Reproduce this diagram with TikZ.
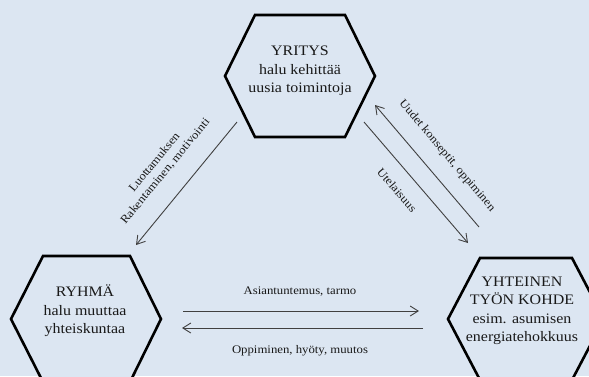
\documentclass[tikz,border=0pt]{standalone}
\usepackage{fontspec}
\setmainfont[FakeStretch=1.1]{Liberation Serif}
\usetikzlibrary{arrows.meta}
\definecolor{bg}{HTML}{DCE6F2}
\definecolor{arr}{HTML}{404040}
\begin{document}
\begin{tikzpicture}[x=1pt,y=-1pt,
 hexa/.style={draw=black,line width=2.6pt,fill=bg,line join=miter},
 hextext/.style={align=center,font=\fontsize{14.5}{18.5}\selectfont,text=black!90,inner sep=0pt},
 lbl/.style={font=\fontsize{11.6}{14}\selectfont,text=black!90,align=center,inner sep=0pt},
 flow/.style={draw=arr,line width=0.9pt,-{Straight Barb[length=8pt,width=10pt]}}]
\useasboundingbox (0,0) rectangle (589,376);
\begin{scope}
\clip (0,0) rectangle (589,376);
\fill[bg] (0,0) rectangle (589,376);
% hexagons
\draw[hexa] (225,76) -- (255,15) -- (345,15) -- (375,76) -- (345,137) -- (255,137) -- cycle;
\draw[hexa] (11,319) -- (43,256) -- (130,256) -- (161,319) -- (130,382) -- (43,382) -- cycle;
\draw[hexa] (448,319) -- (480,258) -- (572,258) -- (604,319) -- (572,380) -- (480,380) -- cycle;
\end{scope}
% texts
\node[hextext] (yritys) at (300,71) {YRITYS\\halu kehittää\\uusia toimintoja};
\node[hextext] (ryhma) at (85,311) {RYHMÄ\\halu muuttaa\\yhteiskuntaa};
\node[hextext] (kohde) at (522,311) {YHTEINEN\\TYÖN KOHDE\\esim. asumisen\\energiatehokkuus};
% arrow end points
\coordinate (l1) at (237,122); \coordinate (l2) at (136,245);
\coordinate (r1) at (479,227); \coordinate (r2) at (375,105);
\coordinate (r3) at (364,122); \coordinate (r4) at (468,243);
\coordinate (h1) at (183,311); \coordinate (h2) at (419,311);
\coordinate (h3) at (423,328); \coordinate (h4) at (182,328);
\draw[flow] (l1) -- (l2);
\draw[flow] (r1) -- (r2);
\draw[flow] (r3) -- (r4);
\draw[flow] (h1) -- (h2);
\draw[flow] (h3) -- (h4);
% labels
\node[lbl,rotate=50.6] (lluott) at (160,167) {Luottamuksen\\Rakentaminen, motivointi};
\node[lbl,rotate=-49.7] (luudet) at (447,156) {Uudet konseptit, oppiminen};
\node[lbl,rotate=-49.5] (lutel) at (397,190) {Utelaisuus};
\node[lbl] (lasian) at (300,292) {Asiantuntemus, tarmo};
\node[lbl] (loppi) at (300,351) {Oppiminen, hyöty, muutos};
\end{tikzpicture}
\end{document}
